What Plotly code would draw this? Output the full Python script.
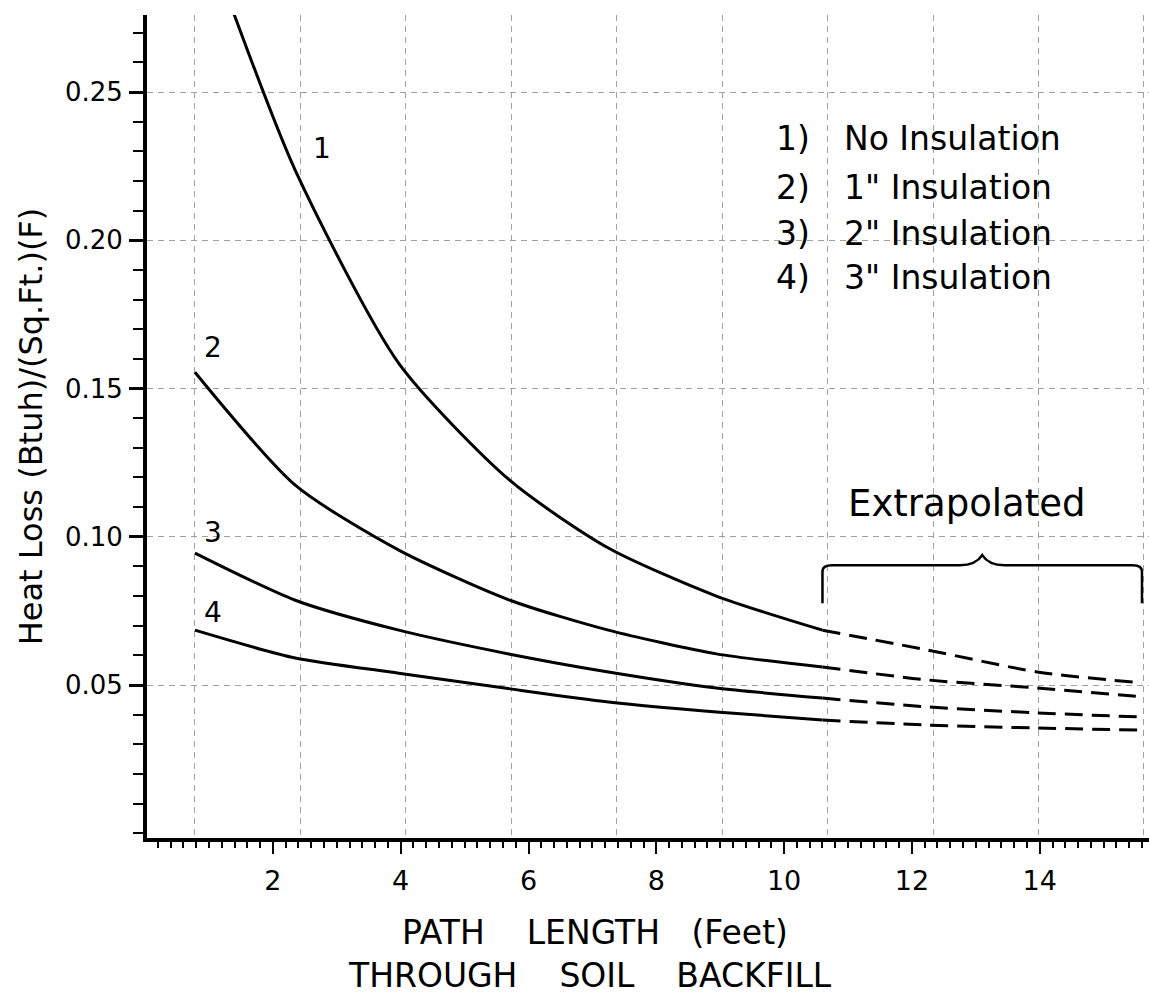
import plotly.graph_objects as go

# ---- data (feet, Btuh/(sq.ft.)(F)) ----
path_ft = [0.78, 2.35, 3.97, 5.71, 7.25, 8.94, 10.6, 12.25, 13.96, 15.6]
path_ft_c1 = [1.38, 2.35, 3.97, 5.71, 7.25, 8.94, 10.6, 12.25, 13.96, 15.6]
no_ins = [0.277, 0.2236, 0.1585, 0.119, 0.0962, 0.080, 0.0685, 0.0618, 0.0544, 0.0507]
ins_1in = [0.1555, 0.1174, 0.0955, 0.0786, 0.0685, 0.0605, 0.0561, 0.0517, 0.049, 0.046]
ins_2in = [0.0945, 0.0786, 0.0685, 0.0604, 0.0544, 0.049, 0.0456, 0.0426, 0.0406, 0.0392]
ins_3in = [0.0685, 0.0591, 0.054, 0.0487, 0.0443, 0.0409, 0.0382, 0.0365, 0.0355, 0.0348]

series_ids = ["1", "2", "3", "4"]
series_names = ["No Insulation", '1" Insulation', '2" Insulation', '3" Insulation']
extrap_start = 10.6  # measured data end / extrapolation start (ft)
extrap_end = 15.6

y_tickvals = [0.05, 0.10, 0.15, 0.20, 0.25]
y_ticktext = ["0.05", "0.10", "0.15", "0.20", "0.25"]
x_tickvals = [2, 4, 6, 8, 10, 12, 14]
x_ticktext = ["2", "4", "6", "8", "10", "12", "14"]

# label positions for curve numbers
label_x = [2.77, 1.07, 1.07, 1.07]
label_y = [0.231, 0.164, 0.1016, 0.0743]
legend_y = [0.2343, 0.2178, 0.2023, 0.1875]

FONT = "DejaVu Sans"
fig = go.Figure()

all_x = [path_ft_c1, path_ft, path_ft, path_ft]
all_y = [no_ins, ins_1in, ins_2in, ins_3in]

for sid, name, xs, ys in zip(series_ids, series_names, all_x, all_y):
    xs_solid = [x for x in xs if x <= extrap_start]
    ys_solid = [y for x, y in zip(xs, ys) if x <= extrap_start]
    xs_dash = [x for x in xs if x >= extrap_start]
    ys_dash = [y for x, y in zip(xs, ys) if x >= extrap_start]
    fig.add_trace(go.Scatter(x=xs_solid, y=ys_solid, mode="lines", name=name,
                             line=dict(color="black", width=3, shape="spline", smoothing=0.7),
                             showlegend=False, hoverinfo="skip"))
    fig.add_trace(go.Scatter(x=xs_dash, y=ys_dash, mode="lines", name=name + " (extrapolated)",
                             line=dict(color="black", width=3, dash="18px,9px", shape="spline", smoothing=0.7),
                             showlegend=False, hoverinfo="skip"))

# invisible trace on the graph-paper grid axis
fig.add_trace(go.Scatter(x=[path_ft[0]], y=[0.1], xaxis="x2", mode="markers",
                         marker=dict(opacity=0), showlegend=False, hoverinfo="skip"))

# curve number labels
for sid, lx, ly in zip(series_ids, label_x, label_y):
    fig.add_annotation(x=lx, y=ly, text=sid, showarrow=False,
                       font=dict(family=FONT, size=28, color="black"))

# legend text block
for sid, name, ly in zip(series_ids, series_names, legend_y):
    fig.add_annotation(x=10.44, y=ly, text=sid + ")", showarrow=False, xanchor="right",
                       font=dict(family=FONT, size=33, color="black"))
    fig.add_annotation(x=10.9, y=ly, text=name, showarrow=False, xanchor="left",
                       font=dict(family=FONT, size=33, color="black"))

# Extrapolated bracket
mid = (extrap_start + extrap_end) / 2
yb, yt, yp = 0.0776, 0.0904, 0.0938
r = 0.15
brace = (f"M {extrap_start},{yb} L {extrap_start},{yt - 0.002} Q {extrap_start},{yt} {extrap_start + r},{yt} "
         f"L {mid - 0.35},{yt} Q {mid - 0.1},{yt} {mid},{yp} Q {mid + 0.1},{yt} {mid + 0.35},{yt} "
         f"L {extrap_end - r},{yt} Q {extrap_end},{yt} {extrap_end},{yt - 0.002} L {extrap_end},{yb}")
fig.add_shape(type="path", path=brace, xref="x", yref="y", line=dict(color="black", width=2.5))
fig.add_annotation(x=12.86, y=0.1113, text="Extrapolated", showarrow=False,
                   font=dict(family=FONT, size=37, color="black"))

# x axis title (two lines, as in the original)
fig.add_annotation(xref="paper", yref="paper", x=0.447, y=-0.1154, xanchor="center", yanchor="middle",
                   text="PATH    LENGTH   (Feet)", showarrow=False,
                   font=dict(family=FONT, size=33, color="black"))
fig.add_annotation(xref="paper", yref="paper", x=0.442, y=-0.1665, xanchor="center", yanchor="middle",
                   text="THROUGH    SOIL    BACKFILL", showarrow=False,
                   font=dict(family=FONT, size=33, color="black"))

fig.update_layout(
    width=1149, height=996,
    margin=dict(l=147, r=0, t=15, b=158),
    paper_bgcolor="white", plot_bgcolor="white",
    xaxis=dict(range=[0.03, 15.71], showline=True, linecolor="black", linewidth=4,
               tickmode="array", tickvals=x_tickvals, ticktext=x_ticktext,
               ticks="outside", ticklen=12, tickwidth=2, tickcolor="black",
               minor=dict(dtick=0.2, ticks="outside", ticklen=6, tickwidth=1.5, tickcolor="black", showgrid=False),
               showgrid=False, zeroline=False, ticklabelstandoff=4,
               tickfont=dict(family=FONT, size=27, color="black")),
    xaxis2=dict(range=[0.03, 15.71], overlaying="x", side="top", tick0=0.78, dtick=1.65,
                showgrid=True, gridcolor="#a0a0a0", gridwidth=1.2, griddash="6px,5px",
                showticklabels=False, ticks="", zeroline=False, showline=False),
    yaxis=dict(range=[-0.0016, 0.276], showline=True, linecolor="black", linewidth=4,
               tickmode="array", tickvals=y_tickvals, ticktext=y_ticktext,
               ticks="outside", ticklen=14, tickwidth=2.5, tickcolor="black",
               minor=dict(dtick=0.01, tick0=0, ticks="outside", ticklen=10, tickwidth=2, tickcolor="black", showgrid=False),
               showgrid=True, gridcolor="#a0a0a0", gridwidth=1.2, griddash="6px,5px",
               zeroline=False, ticklabelstandoff=1,
               tickfont=dict(family=FONT, size=26, color="black"),
               title=dict(text="Heat Loss (Btuh)/(Sq.Ft.)(F)", standoff=14,
                          font=dict(family=FONT, size=32, color="black"))),
)

fig.write_html("out.html", config={"displayModeBar": False},
               post_script="document.body.style.margin='0';document.body.style.overflow='hidden';")
